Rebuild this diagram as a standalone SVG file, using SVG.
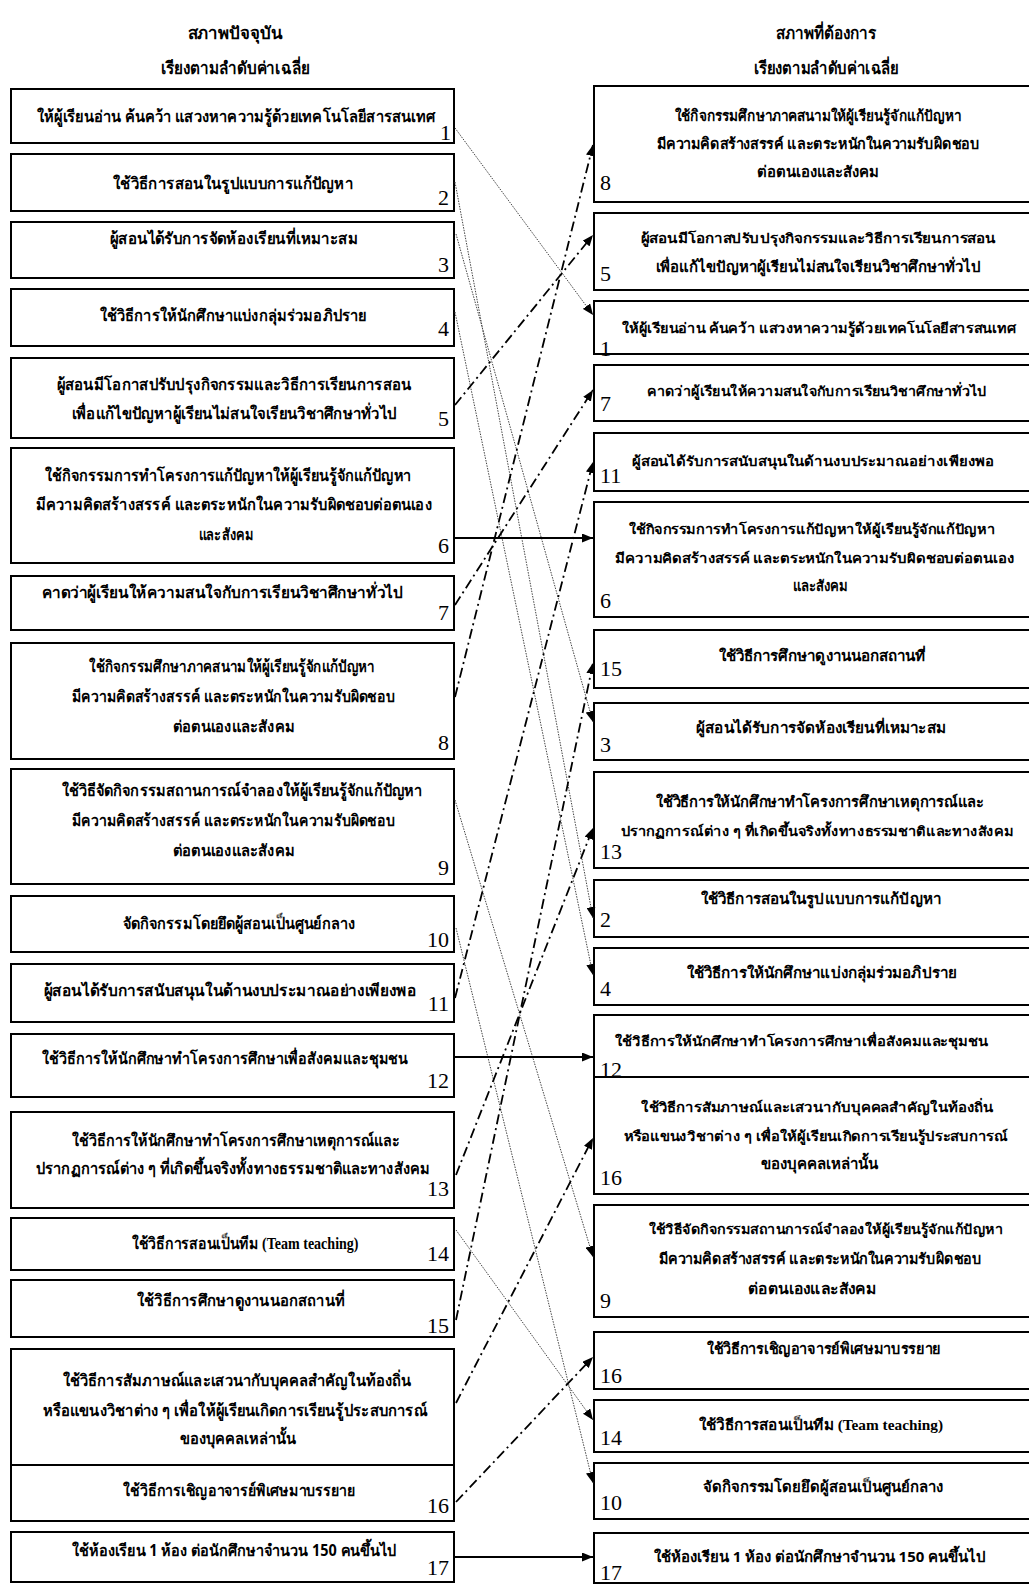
<svg xmlns="http://www.w3.org/2000/svg" width="1029" height="1584" viewBox="0 0 1029 1584">
<style>
.box{fill:#fff;stroke:#000;stroke-width:2}
.t{font-family:"Noto Sans","DejaVu Sans",sans-serif;font-weight:bold;font-size:16px;text-anchor:middle;fill:#000}
.r{font-size:15px}
.s{font-size:13.5px}
.h{font-size:17px}
.mix{font-family:"Liberation Serif","Noto Sans","DejaVu Sans",sans-serif}
.n{font-family:"Liberation Serif",serif;font-size:22px;fill:#000}
.nl{text-anchor:end}
.nr{text-anchor:start}
.dot{fill:none;stroke:#444;stroke-width:1;stroke-dasharray:1.5 1.2}
.dd{fill:none;stroke:#000;stroke-width:1.8;stroke-dasharray:10 4 2 4}
.sol{fill:none;stroke:#000;stroke-width:1.8}
</style>
<defs>
<marker id="ah" markerUnits="userSpaceOnUse" markerWidth="12" markerHeight="9" refX="11" refY="4.5" orient="auto"><path d="M0,0 L11,4.5 L0,9 z" fill="#000"/></marker>
</defs>
<rect width="1029" height="1584" fill="#fff"/>
<g id="headers">
<text class="t h" x="235" y="39" textLength="95" lengthAdjust="spacingAndGlyphs">สภาพปัจจุบัน</text>
<text class="t h" x="235" y="74" textLength="149" lengthAdjust="spacingAndGlyphs">เรียงตามลำดับค่าเฉลี่ย</text>
<text class="t h" x="826" y="39" textLength="100" lengthAdjust="spacingAndGlyphs">สภาพที่ต้องการ</text>
<text class="t h" x="826" y="74" textLength="145" lengthAdjust="spacingAndGlyphs">เรียงตามลำดับค่าเฉลี่ย</text>
</g>
<g id="L1"><rect class="box" x="11" y="89" width="443" height="54"/><text class="t nl" x="435" y="122" font-size="14" textLength="398" lengthAdjust="spacingAndGlyphs">ให้ผู้เรียนอ่าน ค้นคว้า แสวงหาความรู้ด้วยเทคโนโลยีสารสนเทศ</text><text class="n nl" x="451" y="140" font-size="18">1</text></g>
<g id="L2"><rect class="box" x="11" y="154" width="443" height="57"/><text class="t" x="233" y="189" textLength="240" lengthAdjust="spacingAndGlyphs">ใช้วิธีการสอนในรูปแบบการแก้ปัญหา</text><text class="n nl" x="449" y="205">2</text></g>
<g id="L3"><rect class="box" x="11" y="222" width="443" height="56"/><text class="t" x="234" y="244" textLength="248" lengthAdjust="spacingAndGlyphs">ผู้สอนได้รับการจัดห้องเรียนที่เหมาะสม</text><text class="n nl" x="449" y="272">3</text></g>
<g id="L4"><rect class="box" x="11" y="289" width="443" height="57"/><text class="t" x="233" y="321" textLength="267" lengthAdjust="spacingAndGlyphs">ใช้วิธีการให้นักศึกษาแบ่งกลุ่มร่วมอภิปราย</text><text class="n nl" x="449" y="336">4</text></g>
<g id="L5"><rect class="box" x="11" y="358" width="443" height="80"/><text class="t" x="234" y="390" textLength="355" lengthAdjust="spacingAndGlyphs">ผู้สอนมีโอกาสปรับปรุงกิจกรรมและวิธีการเรียนการสอน</text><text class="t" x="234" y="419" textLength="325" lengthAdjust="spacingAndGlyphs">เพื่อแก้ไขปัญหาผู้เรียนไม่สนใจเรียนวิชาศึกษาทั่วไป</text><text class="n nl" x="449" y="426">5</text></g>
<g id="L6"><rect class="box" x="11" y="448" width="443" height="115"/><text class="t" x="228" y="481" textLength="367" lengthAdjust="spacingAndGlyphs">ใช้กิจกรรมการทำโครงการแก้ปัญหาให้ผู้เรียนรู้จักแก้ปัญหา</text><text class="t" x="234" y="510" textLength="396" lengthAdjust="spacingAndGlyphs">มีความคิดสร้างสรรค์ และตระหนักในความรับผิดชอบต่อตนเอง</text><text class="t" x="226" y="540" textLength="55" lengthAdjust="spacingAndGlyphs">และสังคม</text><text class="n nl" x="449" y="553">6</text></g>
<g id="L7"><rect class="box" x="11" y="576" width="443" height="54"/><text class="t" x="222" y="598" textLength="361" lengthAdjust="spacingAndGlyphs">คาดว่าผู้เรียนให้ความสนใจกับการเรียนวิชาศึกษาทั่วไป</text><text class="n nl" x="449" y="620">7</text></g>
<g id="L8"><rect class="box" x="11" y="643" width="443" height="116"/><text class="t" x="232" y="672" textLength="286" lengthAdjust="spacingAndGlyphs">ใช้กิจกรรมศึกษาภาคสนามให้ผู้เรียนรู้จักแก้ปัญหา</text><text class="t" x="233" y="702" textLength="323" lengthAdjust="spacingAndGlyphs">มีความคิดสร้างสรรค์ และตระหนักในความรับผิดชอบ</text><text class="t" x="234" y="732" textLength="122" lengthAdjust="spacingAndGlyphs">ต่อตนเองและสังคม</text><text class="n nl" x="449" y="750">8</text></g>
<g id="L9"><rect class="box" x="11" y="769" width="443" height="115"/><text class="t" x="242" y="796" textLength="361" lengthAdjust="spacingAndGlyphs">ใช้วิธีจัดกิจกรรมสถานการณ์จำลองให้ผู้เรียนรู้จักแก้ปัญหา</text><text class="t" x="233" y="826" textLength="323" lengthAdjust="spacingAndGlyphs">มีความคิดสร้างสรรค์ และตระหนักในความรับผิดชอบ</text><text class="t" x="234" y="856" textLength="122" lengthAdjust="spacingAndGlyphs">ต่อตนเองและสังคม</text><text class="n nl" x="449" y="875">9</text></g>
<g id="L10"><rect class="box" x="11" y="896" width="443" height="56"/><text class="t" x="239" y="929" textLength="232" lengthAdjust="spacingAndGlyphs">จัดกิจกรรมโดยยึดผู้สอนเป็นศูนย์กลาง</text><text class="n nl" x="449" y="947">10</text></g>
<g id="L11"><rect class="box" x="11" y="964" width="443" height="58"/><text class="t" x="230" y="996" textLength="373" lengthAdjust="spacingAndGlyphs">ผู้สอนได้รับการสนับสนุนในด้านงบประมาณอย่างเพียงพอ</text><text class="n nl" x="449" y="1011">11</text></g>
<g id="L12"><rect class="box" x="11" y="1034" width="443" height="63"/><text class="t" x="225" y="1064" textLength="366" lengthAdjust="spacingAndGlyphs">ใช้วิธีการให้นักศึกษาทำโครงการศึกษาเพื่อสังคมและชุมชน</text><text class="n nl" x="449" y="1088">12</text></g>
<g id="L13"><rect class="box" x="11" y="1112" width="443" height="96"/><text class="t" x="236" y="1146" textLength="328" lengthAdjust="spacingAndGlyphs">ใช้วิธีการให้นักศึกษาทำโครงการศึกษาเหตุการณ์และ</text><text class="t" x="233" y="1174" textLength="394" lengthAdjust="spacingAndGlyphs">ปรากฏการณ์ต่าง ๆ ที่เกิดขึ้นจริงทั้งทางธรรมชาติและทางสังคม</text><text class="n nl" x="449" y="1196">13</text></g>
<g id="L14"><rect class="box" x="11" y="1218" width="443" height="52"/><text class="t mix" x="245" y="1249" textLength="227" lengthAdjust="spacingAndGlyphs">ใช้วิธีการสอนเป็นทีม (Team teaching)</text><text class="n nl" x="449" y="1261">14</text></g>
<g id="L15"><rect class="box" x="11" y="1280" width="443" height="57"/><text class="t" x="241" y="1306" textLength="208" lengthAdjust="spacingAndGlyphs">ใช้วิธีการศึกษาดูงานนอกสถานที่</text><text class="n nl" x="449" y="1333">15</text></g>
<g id="L16a"><rect class="box" x="11" y="1349" width="443" height="116"/><text class="t" x="237" y="1386" textLength="349" lengthAdjust="spacingAndGlyphs">ใช้วิธีการสัมภาษณ์และเสวนากับบุคคลสำคัญในท้องถิ่น</text><text class="t" x="235" y="1416" textLength="385" lengthAdjust="spacingAndGlyphs">หรือแขนงวิชาต่าง ๆ เพื่อให้ผู้เรียนเกิดการเรียนรู้ประสบการณ์</text><text class="t" x="238" y="1444" textLength="117" lengthAdjust="spacingAndGlyphs">ของบุคคลเหล่านั้น</text></g>
<g id="L16"><rect class="box" x="11" y="1465" width="443" height="56"/><text class="t" x="239" y="1496" textLength="232" lengthAdjust="spacingAndGlyphs">ใช้วิธีการเชิญอาจารย์พิเศษมาบรรยาย</text><text class="n nl" x="449" y="1513">16</text></g>
<g id="L17"><rect class="box" x="11" y="1532" width="443" height="50"/><text class="t" x="234" y="1556" textLength="325" lengthAdjust="spacingAndGlyphs">ใช้ห้องเรียน 1 ห้อง ต่อนักศึกษาจำนวน 150 คนขึ้นไป</text><text class="n nl" x="449" y="1575">17</text></g>

<g id="R8"><rect class="box" x="594" y="86" width="460" height="116"/><text class="t r" x="818" y="121" textLength="286" lengthAdjust="spacingAndGlyphs">ใช้กิจกรรมศึกษาภาคสนามให้ผู้เรียนรู้จักแก้ปัญหา</text><text class="t r" x="818" y="149" textLength="323" lengthAdjust="spacingAndGlyphs">มีความคิดสร้างสรรค์ และตระหนักในความรับผิดชอบ</text><text class="t r" x="818" y="177" textLength="122" lengthAdjust="spacingAndGlyphs">ต่อตนเองและสังคม</text><text class="n nr" x="600" y="190">8</text></g>
<g id="R5"><rect class="box" x="594" y="213" width="460" height="77"/><text class="t s" x="818" y="243" textLength="355" lengthAdjust="spacingAndGlyphs">ผู้สอนมีโอกาสปรับปรุงกิจกรรมและวิธีการเรียนการสอน</text><text class="t r" x="818" y="272" textLength="325" lengthAdjust="spacingAndGlyphs">เพื่อแก้ไขปัญหาผู้เรียนไม่สนใจเรียนวิชาศึกษาทั่วไป</text><text class="n nr" x="600" y="281">5</text></g>
<g id="R1"><rect class="box" x="594" y="301" width="460" height="53"/><text class="t s" x="819" y="333" textLength="395" lengthAdjust="spacingAndGlyphs">ให้ผู้เรียนอ่าน ค้นคว้า แสวงหาความรู้ด้วยเทคโนโลยีสารสนเทศ</text><text class="n nr" x="600" y="356">1</text></g>
<g id="R7"><rect class="box" x="594" y="365" width="460" height="56"/><text class="t s" x="817" y="396" textLength="340" lengthAdjust="spacingAndGlyphs">คาดว่าผู้เรียนให้ความสนใจกับการเรียนวิชาศึกษาทั่วไป</text><text class="n nr" x="600" y="411">7</text></g>
<g id="R11"><rect class="box" x="594" y="433" width="460" height="58"/><text class="t s" x="813" y="466" textLength="362" lengthAdjust="spacingAndGlyphs">ผู้สอนได้รับการสนับสนุนในด้านงบประมาณอย่างเพียงพอ</text><text class="n nr" x="600" y="483">11</text></g>
<g id="R6"><rect class="box" x="594" y="502" width="460" height="115"/><text class="t s" x="812" y="534" textLength="367" lengthAdjust="spacingAndGlyphs">ใช้กิจกรรมการทำโครงการแก้ปัญหาให้ผู้เรียนรู้จักแก้ปัญหา</text><text class="t s" x="815" y="563" textLength="400" lengthAdjust="spacingAndGlyphs">มีความคิดสร้างสรรค์ และตระหนักในความรับผิดชอบต่อตนเอง</text><text class="t r" x="820" y="591" textLength="55" lengthAdjust="spacingAndGlyphs">และสังคม</text><text class="n nr" x="600" y="608">6</text></g>
<g id="R15"><rect class="box" x="594" y="630" width="460" height="58"/><text class="t r" x="822" y="661" textLength="207" lengthAdjust="spacingAndGlyphs">ใช้วิธีการศึกษาดูงานนอกสถานที่</text><text class="n nr" x="600" y="676">15</text></g>
<g id="R3"><rect class="box" x="594" y="703" width="460" height="57"/><text class="t r" x="821" y="733" textLength="250" lengthAdjust="spacingAndGlyphs">ผู้สอนได้รับการจัดห้องเรียนที่เหมาะสม</text><text class="n nr" x="600" y="752">3</text></g>
<g id="R13"><rect class="box" x="594" y="772" width="460" height="96"/><text class="t r" x="820" y="807" textLength="328" lengthAdjust="spacingAndGlyphs">ใช้วิธีการให้นักศึกษาทำโครงการศึกษาเหตุการณ์และ</text><text class="t s" x="817" y="836" textLength="393" lengthAdjust="spacingAndGlyphs">ปรากฏการณ์ต่าง ๆ ที่เกิดขึ้นจริงทั้งทางธรรมชาติและทางสังคม</text><text class="n nr" x="600" y="859">13</text></g>
<g id="R2"><rect class="box" x="594" y="880" width="460" height="57"/><text class="t r" x="821" y="904" textLength="240" lengthAdjust="spacingAndGlyphs">ใช้วิธีการสอนในรูปแบบการแก้ปัญหา</text><text class="n nr" x="600" y="927">2</text></g>
<g id="R4"><rect class="box" x="594" y="948" width="460" height="57"/><text class="t r" x="822" y="978" textLength="270" lengthAdjust="spacingAndGlyphs">ใช้วิธีการให้นักศึกษาแบ่งกลุ่มร่วมอภิปราย</text><text class="n nr" x="600" y="996">4</text></g>
<g id="R12"><rect class="box" x="594" y="1015" width="460" height="62"/><text class="t s" x="801" y="1046" textLength="373" lengthAdjust="spacingAndGlyphs">ใช้วิธีการให้นักศึกษาทำโครงการศึกษาเพื่อสังคมและชุมชน</text><text class="n nr" x="600" y="1077">12</text></g>
<g id="R16a"><rect class="box" x="594" y="1077" width="460" height="117"/><text class="t s" x="817" y="1112" textLength="352" lengthAdjust="spacingAndGlyphs">ใช้วิธีการสัมภาษณ์และเสวนากับบุคคลสำคัญในท้องถิ่น</text><text class="t s" x="816" y="1141" textLength="384" lengthAdjust="spacingAndGlyphs">หรือแขนงวิชาต่าง ๆ เพื่อให้ผู้เรียนเกิดการเรียนรู้ประสบการณ์</text><text class="t r" x="819" y="1169" textLength="117" lengthAdjust="spacingAndGlyphs">ของบุคคลเหล่านั้น</text><text class="n nr" x="600" y="1185">16</text></g>
<g id="R9"><rect class="box" x="594" y="1205" width="460" height="112"/><text class="t s" x="826" y="1234" textLength="355" lengthAdjust="spacingAndGlyphs">ใช้วิธีจัดกิจกรรมสถานการณ์จำลองให้ผู้เรียนรู้จักแก้ปัญหา</text><text class="t r" x="820" y="1264" textLength="323" lengthAdjust="spacingAndGlyphs">มีความคิดสร้างสรรค์ และตระหนักในความรับผิดชอบ</text><text class="t r" x="812" y="1294" textLength="128" lengthAdjust="spacingAndGlyphs">ต่อตนเองและสังคม</text><text class="n nr" x="600" y="1308">9</text></g>
<g id="R16"><rect class="box" x="594" y="1332" width="460" height="57"/><text class="t r" x="824" y="1354" textLength="234" lengthAdjust="spacingAndGlyphs">ใช้วิธีการเชิญอาจารย์พิเศษมาบรรยาย</text><text class="n nr" x="600" y="1383">16</text></g>
<g id="R14"><rect class="box" x="594" y="1400" width="460" height="52"/><text class="t r mix" x="821" y="1430" textLength="244" lengthAdjust="spacingAndGlyphs">ใช้วิธีการสอนเป็นทีม (Team teaching)</text><text class="n nr" x="600" y="1445">14</text></g>
<g id="R10"><rect class="box" x="594" y="1463" width="460" height="56"/><text class="t r" x="823" y="1492" textLength="240" lengthAdjust="spacingAndGlyphs">จัดกิจกรรมโดยยึดผู้สอนเป็นศูนย์กลาง</text><text class="n nr" x="600" y="1510">10</text></g>
<g id="R17"><rect class="box" x="594" y="1533" width="460" height="50"/><text class="t r" x="820" y="1562" textLength="332" lengthAdjust="spacingAndGlyphs">ใช้ห้องเรียน 1 ห้อง ต่อนักศึกษาจำนวน 150 คนขึ้นไป</text><text class="n nr" x="600" y="1580">17</text></g>

<g id="connectors">
<line class="dot" x1="455" y1="128" x2="593" y2="315" marker-end="url(#ah)"/>
<line class="dot" x1="455" y1="182" x2="593" y2="918" marker-end="url(#ah)"/>
<line class="dot" x1="456" y1="234" x2="593" y2="722" marker-end="url(#ah)"/>
<line class="dot" x1="455" y1="312" x2="593" y2="975" marker-end="url(#ah)"/>
<line class="dot" x1="455" y1="800" x2="593" y2="1257" marker-end="url(#ah)"/>
<line class="dot" x1="456" y1="928" x2="593" y2="1483" marker-end="url(#ah)"/>
<line class="dot" x1="456" y1="1230" x2="593" y2="1420" marker-end="url(#ah)"/>
<line class="dd" x1="455" y1="405" x2="593" y2="235" marker-end="url(#ah)"/>
<line class="dd" x1="455" y1="605" x2="593" y2="390" marker-end="url(#ah)"/>
<line class="dd" x1="455" y1="697" x2="593" y2="145" marker-end="url(#ah)"/>
<line class="dd" x1="455" y1="998" x2="593" y2="462" marker-end="url(#ah)"/>
<line class="dd" x1="456" y1="1175" x2="593" y2="828" marker-end="url(#ah)"/>
<line class="dd" x1="456" y1="1320" x2="593" y2="663" marker-end="url(#ah)"/>
<line class="dd" x1="456" y1="1403" x2="593" y2="1138" marker-end="url(#ah)"/>
<line class="dd" x1="456" y1="1502" x2="593" y2="1357" marker-end="url(#ah)"/>
<line class="sol" x1="455" y1="538" x2="593" y2="538" marker-end="url(#ah)"/>
<line class="sol" x1="455" y1="1057" x2="593" y2="1057" marker-end="url(#ah)"/>
<line class="sol" x1="455" y1="1557" x2="593" y2="1557" marker-end="url(#ah)"/>
</g>
</svg>
